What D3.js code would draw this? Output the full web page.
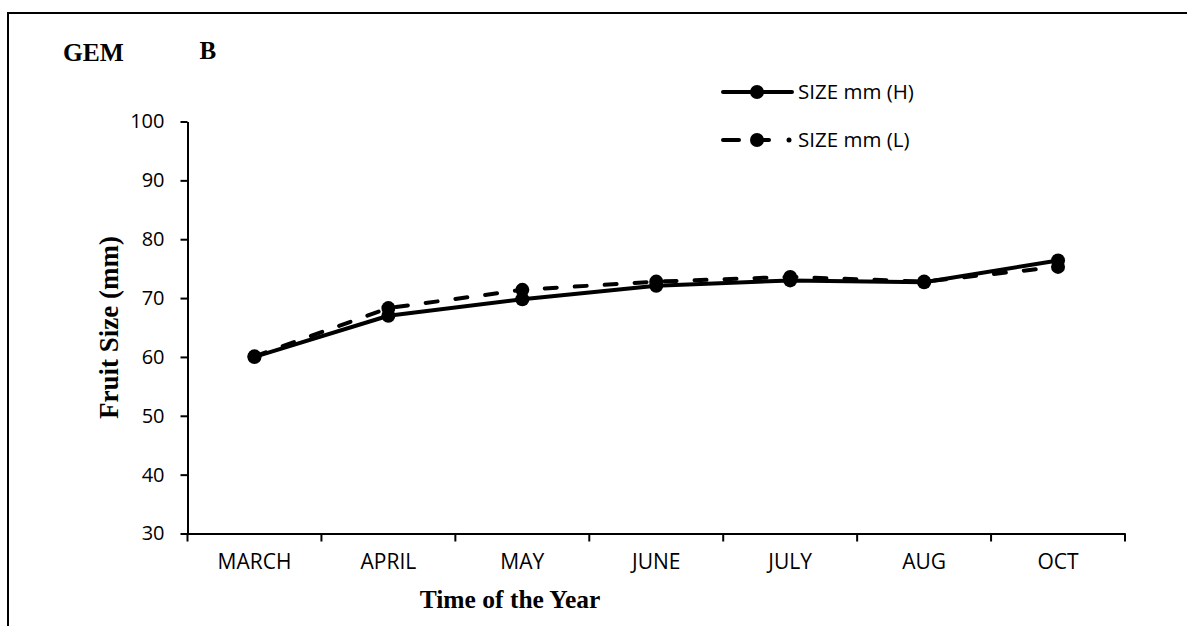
<!DOCTYPE html>
<html>
<head>
<meta charset="utf-8">
<script src="https://cdn.jsdelivr.net/npm/d3@7/dist/d3.min.js"></script>
<style>
  html, body { margin: 0; padding: 0; background: #fff; }
  svg { display: block; }
</style>
</head>
<body>
<svg id="chart" width="1187" height="626"></svg>
<script>
const categories = ["MARCH", "APRIL", "MAY", "JUNE", "JULY", "AUG", "OCT"];
const sizeH = [60.0, 67.0, 69.8, 72.1, 73.0, 72.7, 76.4];
const sizeL = [60.1, 68.3, 71.4, 72.8, 73.6, 72.8, 75.3];
const yTicks = [30, 40, 50, 60, 70, 80, 90, 100];
const seriesNames = ["SIZE mm (H)", "SIZE mm (L)"];

(function () {
const svg = d3.select("#chart");
const pLeft = 187.5, pRight = 1125, pTop = 121.5, pBottom = 533.5;

const x = d3.scaleBand().domain(categories).range([pLeft, pRight]);
const y = d3.scaleLinear().domain([30, 100]).range([pBottom, pTop]);

// Border (top + left)
svg.append("path")
  .attr("d", `M8,626 L8,13 L1187,13`)
  .attr("fill", "none").attr("stroke", "#000").attr("stroke-width", 2);

const labelFont = "'Open Sans', 'Noto Sans', sans-serif";
const titleFont = "'Liberation Serif', 'Times New Roman', serif";

// Y axis
const yAxis = svg.append("g")
  .attr("transform", `translate(${pLeft},0)`)
  .call(d3.axisLeft(y).tickValues(yTicks).tickSize(7).tickSizeOuter(0).tickPadding(16));
yAxis.select(".domain").attr("stroke", "#000").attr("stroke-width", 2);
yAxis.selectAll(".tick line").attr("stroke", "#000").attr("stroke-width", 2);
yAxis.selectAll(".tick text").attr("font-family", labelFont).attr("font-size", "20px").attr("fill", "#000");

// X axis with ticks at category boundaries
const xAxis = svg.append("g")
  .attr("transform", `translate(0,${pBottom})`)
  .call(d3.axisBottom(x).tickSize(0).tickPadding(21));
xAxis.select(".domain").attr("stroke", "#000").attr("stroke-width", 2);
xAxis.selectAll(".tick text").attr("font-family", labelFont).attr("font-size", "21px").attr("fill", "#000");
const boundaries = categories.map(c => x(c)).concat([x.range()[1]]);
xAxis.selectAll(".bnd").data(boundaries).enter().append("line")
  .attr("class", "bnd")
  .attr("x1", d => d).attr("x2", d => d)
  .attr("y1", 0).attr("y2", 8)
  .attr("stroke", "#000").attr("stroke-width", 2);

// Axis titles
svg.append("text")
  .attr("x", 510).attr("y", 608)
  .attr("text-anchor", "middle")
  .attr("font-family", titleFont).attr("font-weight", "bold").attr("font-size", "25.5px")
  .text("Time of the Year");
svg.append("text")
  .attr("transform", `translate(118,${(pTop + pBottom) / 2}) rotate(-90)`)
  .attr("text-anchor", "middle")
  .attr("font-family", titleFont).attr("font-weight", "bold").attr("font-size", "27px")
  .text("Fruit Size (mm)");

// Panel labels
svg.append("text").attr("x", 63).attr("y", 61)
  .attr("font-family", titleFont).attr("font-weight", "bold").attr("font-size", "25.5px").text("GEM");
svg.append("text").attr("x", 199.5).attr("y", 59)
  .attr("font-family", titleFont).attr("font-weight", "bold").attr("font-size", "25px").text("B");

// Lines
const cx = c => x(c) + x.bandwidth() / 2;
const line = d3.line().x((d, i) => cx(categories[i])).y(d => y(d));

const series = [
  { name: seriesNames[0], values: sizeH, dash: null },
  { name: seriesNames[1], values: sizeL, dash: "12,18" }
];

series.slice().reverse().forEach(s => {
  svg.append("path")
    .attr("d", line(s.values))
    .attr("fill", "none").attr("stroke", "#000")
    .attr("stroke-width", 4)
    .attr("stroke-linecap", "round").attr("stroke-linejoin", "round")
    .attr("stroke-dasharray", s.dash);
  svg.selectAll(null).data(s.values).enter().append("circle")
    .attr("cx", (d, i) => cx(categories[i]))
    .attr("cy", d => y(d))
    .attr("r", 7).attr("fill", "#000");
});

// Legend
const legend = svg.append("g");
series.forEach((s, i) => {
  const ly = 92 + i * 48;
  if (s.dash) {
    legend.append("line").attr("x1", 723).attr("x2", 739).attr("y1", ly).attr("y2", ly)
      .attr("stroke", "#000").attr("stroke-width", 4).attr("stroke-linecap", "round");
    legend.append("line").attr("x1", 757).attr("x2", 769).attr("y1", ly).attr("y2", ly)
      .attr("stroke", "#000").attr("stroke-width", 4).attr("stroke-linecap", "round");
    legend.append("circle").attr("cx", 789).attr("cy", ly).attr("r", 2.5).attr("fill", "#000");
  } else {
    legend.append("line").attr("x1", 723).attr("x2", 792).attr("y1", ly).attr("y2", ly)
      .attr("stroke", "#000").attr("stroke-width", 4).attr("stroke-linecap", "round");
  }
  legend.append("circle").attr("cx", 757).attr("cy", ly).attr("r", 7).attr("fill", "#000");
  legend.append("text").attr("x", 798).attr("y", ly).attr("dy", "0.35em")
    .attr("font-family", labelFont).attr("font-size", "20.5px").text(s.name);
});
})();
</script>
</body>
</html>
